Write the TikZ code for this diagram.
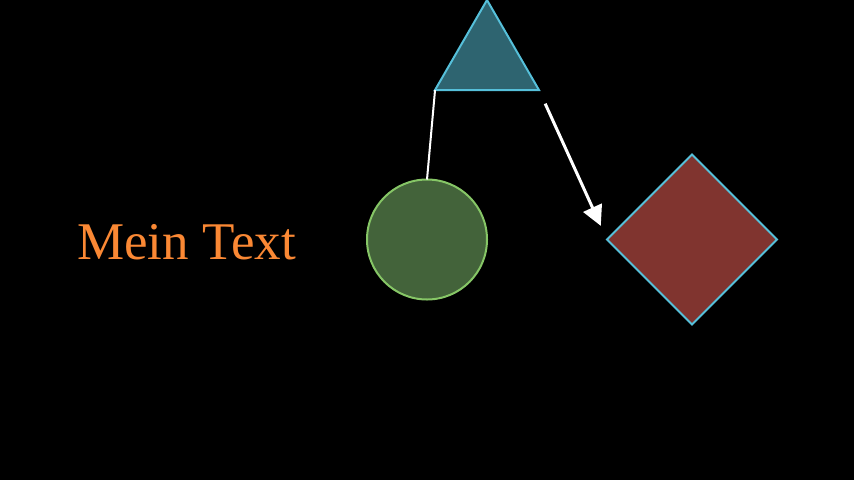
\documentclass[tikz,border=0pt]{standalone}
\usepackage{fontspec}
\setmainfont{Liberation Serif}
\usetikzlibrary{shapes.geometric,arrows.meta}
\definecolor{textorange}{RGB}{250,136,52}
\definecolor{trifill}{RGB}{46,100,112}
\definecolor{skyline}{RGB}{86,192,218}
\definecolor{circfill}{RGB}{67,99,58}
\definecolor{circline}{RGB}{134,198,102}
\definecolor{diafill}{RGB}{128,52,47}
\begin{document}
\begin{tikzpicture}[x=1pt,y=-1pt,
    shapeline/.style={line width=2pt, inner sep=0pt, outer sep=0pt}]
    % Hintergrund
    \useasboundingbox (0,0) rectangle (854,480);
    \fill[black] (0,0) rectangle (854,480);
    % Formen
    \node[textorange, anchor=base, font=\fontsize{53}{62}\selectfont] (txt) at (186.5,259) {Mein Text};
    \node[shapeline, regular polygon, regular polygon sides=3, minimum size=120pt, draw=skyline, fill=trifill] (tri) at (487,60) {};
    \node[shapeline, circle, minimum size=120pt, draw=circline, fill=circfill] (circ) at (427,239.5) {};
    \node[shapeline, diamond, minimum width=170pt, minimum height=170pt, draw=skyline, fill=diafill] (dia) at (692,239.5) {};
    % Verbindungen
    \draw[white, line width=2pt] (tri.corner 2) -- (circ.north);
    \draw[white, line width=3pt, -{Triangle[length=20pt,width=20pt]}, shorten <=15pt, shorten >=15pt] (tri.corner 3) -- (dia.west);
\end{tikzpicture}
\end{document}
